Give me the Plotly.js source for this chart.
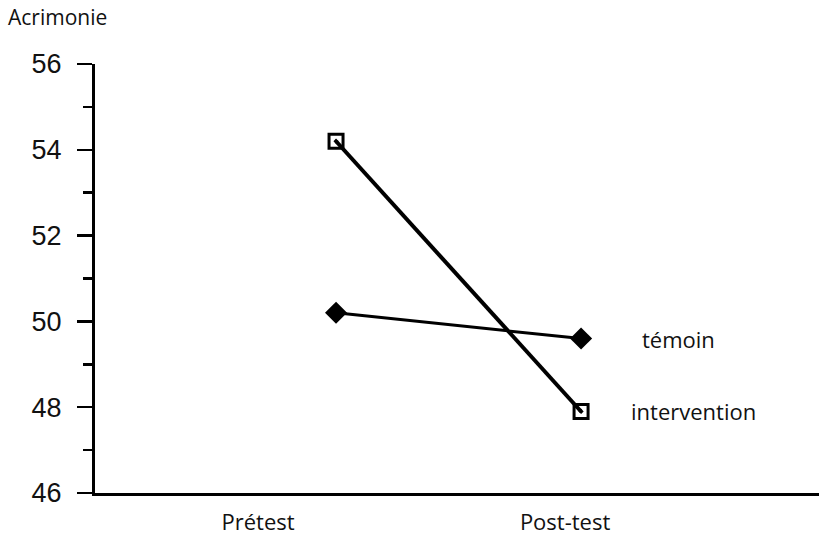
<!DOCTYPE html>
<html>
<head>
<meta charset="utf-8">
<script src="https://cdn.plot.ly/plotly-3.0.1.min.js"></script>
<style>html,body{margin:0;padding:0;background:#fff;}#chart{width:819px;height:536px;}</style>
</head>
<body>
<div id="chart"></div>
<script>
const categories = ['Prétest', 'Post-test'];
const interventionValues = [54.2, 47.9];
const temoinValues = [50.2, 49.6];
const seriesNames = ['intervention', 'témoin'];
const yTickVals = [46, 48, 50, 52, 54, 56];
const yAxisLabel = 'Acrimonie';

const labelFont = {family: 'Open Sans, Lato, sans-serif', size: 22, color: '#111'};

const traces = [
  {
    x: categories, y: interventionValues, type: 'scatter', mode: 'lines+markers',
    name: seriesNames[0], xaxis: 'x', yaxis: 'y',
    line: {color: '#000', width: 4},
    marker: {symbol: 'square-open-dot', size: 14, color: '#000', line: {width: 3, color: '#000'}}
  },
  {
    x: categories, y: temoinValues, type: 'scatter', mode: 'lines+markers',
    name: seriesNames[1], xaxis: 'x', yaxis: 'y',
    line: {color: '#000', width: 3},
    marker: {symbol: 'diamond', size: 17, color: '#000'}
  },
  {
    x: categories, y: [yTickVals[0], yTickVals[0]], type: 'scatter', mode: 'markers',
    xaxis: 'x2', yaxis: 'y', opacity: 0, hoverinfo: 'skip', showlegend: false
  }
];

const layout = {
  width: 819, height: 536,
  margin: {l: 95, r: 0, t: 64, b: 43, autoexpand: false},
  paper_bgcolor: '#fff', plot_bgcolor: '#fff',
  showlegend: false,
  xaxis: {
    type: 'category', range: [-0.9837, 1.971],
    showline: true, linecolor: '#000', linewidth: 3,
    showgrid: false, zeroline: false, ticks: '', showticklabels: false
  },
  xaxis2: {
    type: 'category', overlaying: 'x', anchor: 'y', side: 'bottom',
    range: [-0.531, 1.827],
    showline: false, showgrid: false, zeroline: false, ticks: '',
    tickfont: labelFont, ticklabelstandoff: 14
  },
  yaxis: {
    range: [46, 56], tickvals: yTickVals,
    showline: true, linecolor: '#000', linewidth: 3,
    showgrid: false, zeroline: false,
    ticks: 'outside', ticklen: 15, tickwidth: 2.5, tickcolor: '#000',
    tickfont: {family: 'Liberation Sans, Arial, sans-serif', size: 27, color: '#111'},
    ticklabelstandoff: 10,
    minor: {dtick: 1, ticks: 'outside', ticklen: 9, tickwidth: 2.5, tickcolor: '#000', showgrid: false}
  },
  annotations: [
    {text: yAxisLabel, xref: 'paper', yref: 'paper', x: -95/724, y: 1 + 47/429,
     xanchor: 'left', yanchor: 'middle', showarrow: false, xshift: 6,
     font: {family: 'Open Sans, Lato, sans-serif', size: 21, color: '#111'}},
    {text: seriesNames[1], xref: 'x', yref: 'y', x: categories[1], y: temoinValues[1],
     xanchor: 'left', yanchor: 'middle', showarrow: false, xshift: 59, font: labelFont},
    {text: seriesNames[0], xref: 'x', yref: 'y', x: categories[1], y: interventionValues[1],
     xanchor: 'left', yanchor: 'middle', showarrow: false, xshift: 48, font: labelFont}
  ]
};

Plotly.newPlot('chart', traces, layout, {displayModeBar: false, staticPlot: true});
</script>
</body>
</html>
